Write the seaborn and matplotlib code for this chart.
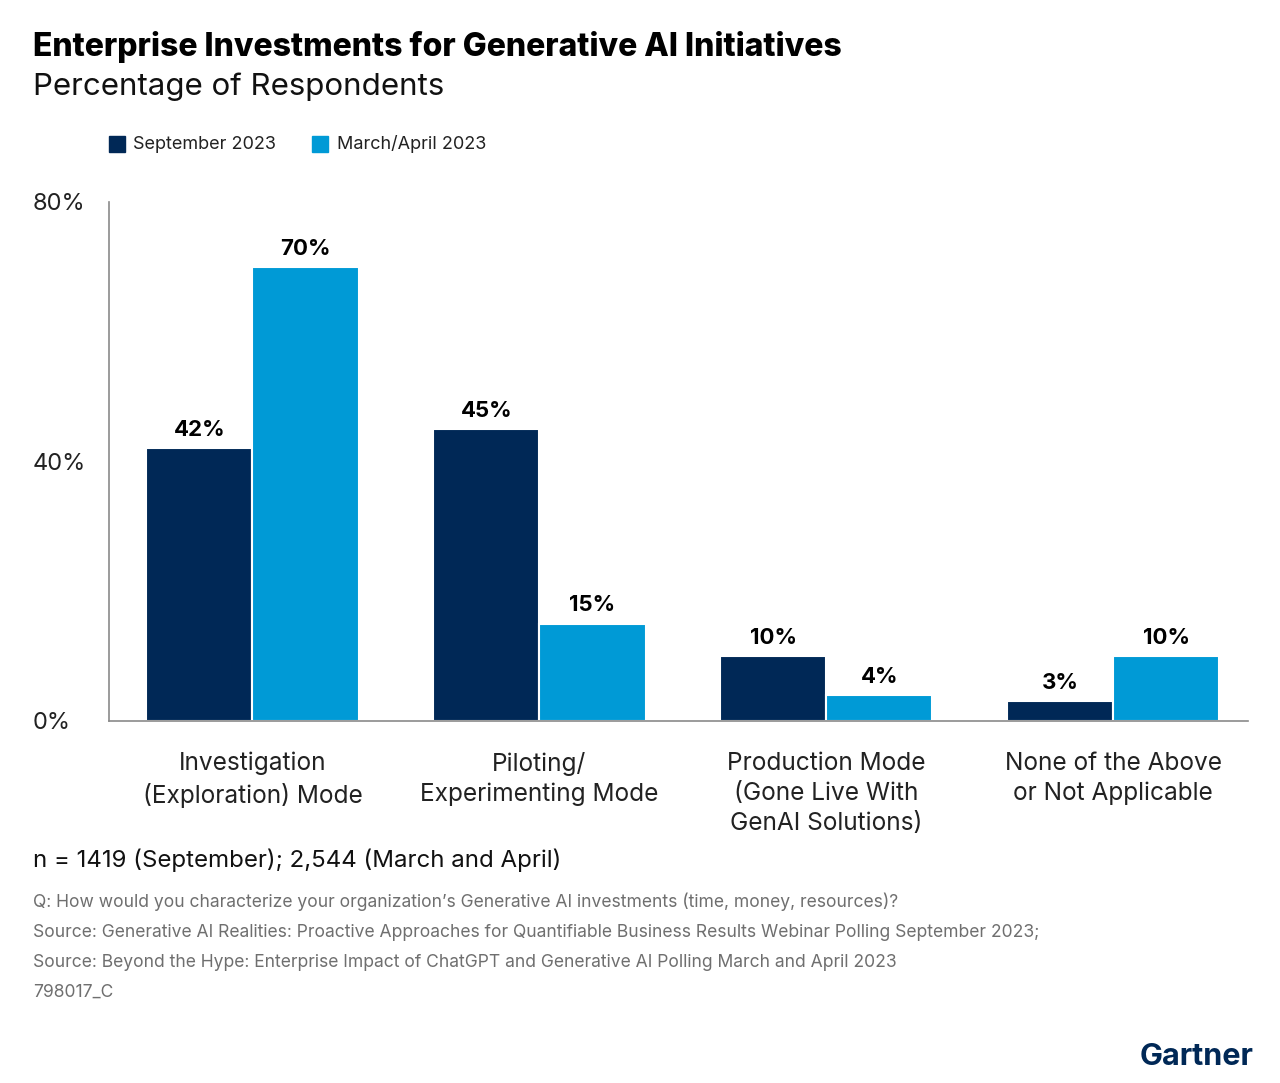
import matplotlib

matplotlib.use("Agg")
import matplotlib.pyplot as plt
import pandas as pd
import seaborn as sns

categories = [
    "Investigation\n(Exploration) Mode",
    "Piloting/\nExperimenting Mode",
    "Production Mode\n(Gone Live With\nGenAI Solutions)",
    "None of the Above\nor Not Applicable",
]
series_names = ["September 2023", "March/April 2023"]
sept_values = [42, 45, 10, 3]
march_values = [70, 15, 4, 10]
y_ticks = [0, 40, 80]

NAVY = "#002856"
BLUE = "#009AD6"
GREY = "#6f6f6f"

df = pd.DataFrame({
    "category": categories * 2,
    "period": [series_names[0]] * 4 + [series_names[1]] * 4,
    "value": sept_values + march_values,
})

sns.set_theme(style="white")
plt.rcParams["font.family"] = ["Inter", "DejaVu Sans"]

fig = plt.figure(figsize=(12.8, 10.83), dpi=100)
ax = fig.add_axes([0.0852, 0.3343, 0.8898, 0.4792])

sns.barplot(data=df, x="category", y="value", hue="period",
            palette=[NAVY, BLUE], saturation=1, width=0.74, gap=0.0,
            edgecolor="white", linewidth=1.5, ax=ax, legend=False)

for container in ax.containers:
    ax.bar_label(container, labels=[f"{v:.0f}%" for v in container.datavalues],
                 padding=6, fontsize=16, fontweight="bold", color="black")

ax.set_xlim(-0.5, 3.47)
ax.set_ylim(0, 80)
ax.set_yticks(y_ticks)
ax.set_yticklabels([f"{t}%" for t in y_ticks], fontsize=17, color="#222222")
ax.tick_params(axis="x", length=0, pad=22, labelsize=17.6, labelcolor="#222222")
for lbl in ax.get_xticklabels():
    lbl.set_linespacing(1.4)
ax.set_xlabel("")
ax.set_ylabel("")
for side in ["top", "right"]:
    ax.spines[side].set_visible(False)
for side in ["left", "bottom"]:
    ax.spines[side].set_color("#8a8a8a")
    ax.spines[side].set_linewidth(1.2)

# y labels sit left-aligned in the margin (pad is in points: 76 px)
for lbl in ax.get_yticklabels():
    lbl.set_horizontalalignment("left")
ax.tick_params(axis="y", length=0, pad=54.7)

# titles
fig.text(0.026, 0.957, "Enterprise Investments for Generative AI Initiatives",
         fontsize=23, fontweight="heavy", color="black", va="center")
fig.text(0.026, 0.920, "Percentage of Respondents",
         fontsize=22.5, color="#111111", va="center")

# legend
legend_x = [0.0852, 0.244]
for x, name, col in zip(legend_x, series_names, [NAVY, BLUE]):
    fig.patches.append(plt.Rectangle((x, 0.860), 0.0125, 0.0148,
                                     transform=fig.transFigure, color=col))
    fig.text(x + 0.019, 0.867, name, fontsize=13, color="#222222", va="center")

# footnotes
fig.text(0.026, 0.206, "n = 1419 (September); 2,544 (March and April)",
         fontsize=17.3, color="#111111", va="center")
notes = [
    "Q: How would you characterize your organization\u2019s Generative AI investments (time, money, resources)?",
    "Source: Generative AI Realities: Proactive Approaches for Quantifiable Business Results Webinar Polling September 2023;",
    "Source: Beyond the Hype: Enterprise Impact of ChatGPT and Generative AI Polling March and April 2023",
    "798017_C",
]
for i, note in enumerate(notes):
    fig.text(0.026, 0.167 - i * 0.0277, note, fontsize=12.6, color=GREY, va="center")

fig.text(0.979, 0.024, "Gartner", fontsize=22, fontweight="bold", color=NAVY,
         ha="right", va="center")

fig.savefig("out.png", dpi=100, facecolor="white")
